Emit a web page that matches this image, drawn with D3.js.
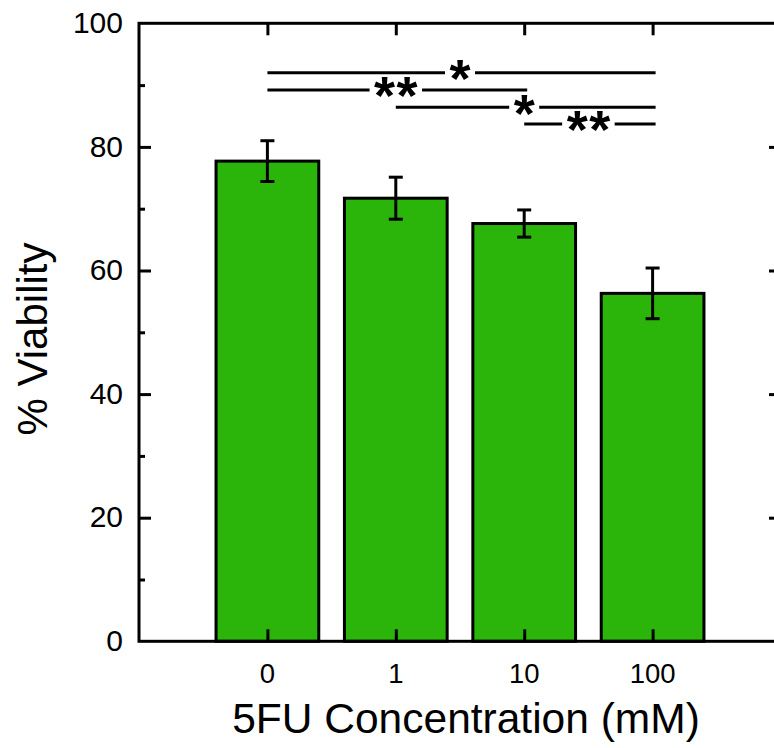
<!DOCTYPE html>
<html>
<head>
<meta charset="utf-8">
<script src="https://cdn.jsdelivr.net/npm/d3@7"></script>
<style>
  body { margin: 0; background: #fff; }
  svg { display: block; font-family: "Liberation Sans", Arial, sans-serif; }
</style>
</head>
<body>
<svg id="chart" width="774" height="748"></svg>
<script>
// Data
const categories = ["0", "1", "10", "100"];
const viability = [77.7, 71.7, 67.6, 56.3];
const errors = [3.3, 3.4, 2.2, 4.1];
const yTicks = [0, 20, 40, 60, 80, 100];
const yMinorTicks = [10, 30, 50, 70, 90];
// significance brackets: from index, to index, height (% units), label
const sigFrom = [0, 0, 1, 2];
const sigTo = [3, 2, 3, 3];
const sigLevel = [92.0, 89.2, 86.4, 83.7];
const sigLabel = ["*", "**", "*", "**"];

const plot = { left: 139, right: 781, top: 23.3, bottom: 641.3 };

const svg = d3.select("#chart");

const x = d3.scalePoint()
  .domain(categories)
  .range([plot.left, plot.right])
  .padding(1);

const y = d3.scaleLinear()
  .domain([0, 100])
  .range([plot.bottom, plot.top]);

const barWidth = x.step() * 0.8;
const green = "#2bb40a";

// Bars
svg.selectAll(".bar")
  .data(viability)
  .enter()
  .append("rect")
  .attr("class", "bar")
  .attr("x", (d, i) => x(categories[i]) - barWidth / 2)
  .attr("y", d => y(d))
  .attr("width", barWidth)
  .attr("height", d => y(0) - y(d))
  .attr("fill", green)
  .attr("stroke", "#000")
  .attr("stroke-width", 3);

// Error bars
const cap = 7;
const eb = svg.selectAll(".err")
  .data(viability)
  .enter()
  .append("g")
  .attr("class", "err")
  .attr("stroke", "#000")
  .attr("stroke-width", 3);

eb.append("line")
  .attr("x1", (d, i) => x(categories[i]))
  .attr("x2", (d, i) => x(categories[i]))
  .attr("y1", (d, i) => y(d + errors[i]))
  .attr("y2", (d, i) => y(d - errors[i]));
eb.append("line")
  .attr("x1", (d, i) => x(categories[i]) - cap)
  .attr("x2", (d, i) => x(categories[i]) + cap)
  .attr("y1", (d, i) => y(d + errors[i]))
  .attr("y2", (d, i) => y(d + errors[i]));
eb.append("line")
  .attr("x1", (d, i) => x(categories[i]) - cap)
  .attr("x2", (d, i) => x(categories[i]) + cap)
  .attr("y1", (d, i) => y(d - errors[i]))
  .attr("y2", (d, i) => y(d - errors[i]));

// Axes (ticks point inward)
const tickStyle = g => {
  g.select(".domain").remove();
  g.selectAll("line").attr("stroke", "#000").attr("stroke-width", 3);
  g.selectAll("text").remove();
};

svg.append("g")
  .attr("transform", `translate(${plot.left},0)`)
  .call(d3.axisRight(y).tickValues(yTicks.slice(1, -1)).tickSize(12))
  .call(tickStyle);
svg.append("g")
  .attr("transform", `translate(${plot.left},0)`)
  .call(d3.axisRight(y).tickValues(yMinorTicks).tickSize(6))
  .call(tickStyle);
svg.append("g")
  .attr("transform", `translate(${plot.right},0)`)
  .call(d3.axisLeft(y).tickValues(yTicks.slice(1, -1)).tickSize(12))
  .call(tickStyle);
svg.append("g")
  .attr("transform", `translate(${plot.right},0)`)
  .call(d3.axisLeft(y).tickValues(yMinorTicks).tickSize(6))
  .call(tickStyle);
svg.append("g")
  .attr("transform", `translate(0,${plot.bottom})`)
  .call(d3.axisTop(x).tickSize(12))
  .call(tickStyle);
svg.append("g")
  .attr("transform", `translate(0,${plot.top})`)
  .call(d3.axisBottom(x).tickSize(12))
  .call(tickStyle);

// Frame
svg.append("rect")
  .attr("x", plot.left)
  .attr("y", plot.top)
  .attr("width", plot.right - plot.left)
  .attr("height", plot.bottom - plot.top)
  .attr("fill", "none")
  .attr("stroke", "#000")
  .attr("stroke-width", 3);

// Tick labels
svg.selectAll(".ylab")
  .data(yTicks)
  .enter()
  .append("text")
  .attr("class", "ylab")
  .attr("x", plot.left - 16)
  .attr("y", d => y(d))
  .attr("dy", "0.32em")
  .attr("text-anchor", "end")
  .style("font-size", "30px")
  .text(d => d);

svg.selectAll(".xlab")
  .data(categories)
  .enter()
  .append("text")
  .attr("class", "xlab")
  .attr("x", d => x(d))
  .attr("y", plot.bottom + 42)
  .attr("text-anchor", "middle")
  .style("font-size", "27.5px")
  .text(d => d);

// Axis titles
svg.append("text")
  .attr("x", 466)
  .attr("y", 733)
  .attr("text-anchor", "middle")
  .style("font-size", "42.5px")
  .text("5FU Concentration (mM)");

svg.append("text")
  .attr("transform", "translate(47,339) rotate(-90)")
  .attr("text-anchor", "middle")
  .style("font-size", "42px")
  .text("% Viability");

// Significance brackets
const starSize = 54;
const starStep = 22.5;
sigLabel.forEach((lab, k) => {
  const x1 = x(categories[sigFrom[k]]);
  const x2 = x(categories[sigTo[k]]);
  const ly = y(sigLevel[k]);
  const mid = (x1 + x2) / 2;
  const n = lab.length;
  d3.range(n).forEach(j => {
    svg.append("text")
      .attr("x", mid + (j - (n - 1) / 2) * starStep)
      .attr("y", ly + starSize * 0.45)
      .attr("text-anchor", "middle")
      .style("font-size", starSize + "px")
      .style("font-weight", "bold")
      .text("*");
  });
  const half = (n - 1) / 2 * starStep + 15;
  svg.append("line")
    .attr("x1", x1).attr("x2", mid - half)
    .attr("y1", ly).attr("y2", ly)
    .attr("stroke", "#000").attr("stroke-width", 3);
  svg.append("line")
    .attr("x1", mid + half).attr("x2", x2 + 3)
    .attr("y1", ly).attr("y2", ly)
    .attr("stroke", "#000").attr("stroke-width", 3);
});
</script>
</body>
</html>
